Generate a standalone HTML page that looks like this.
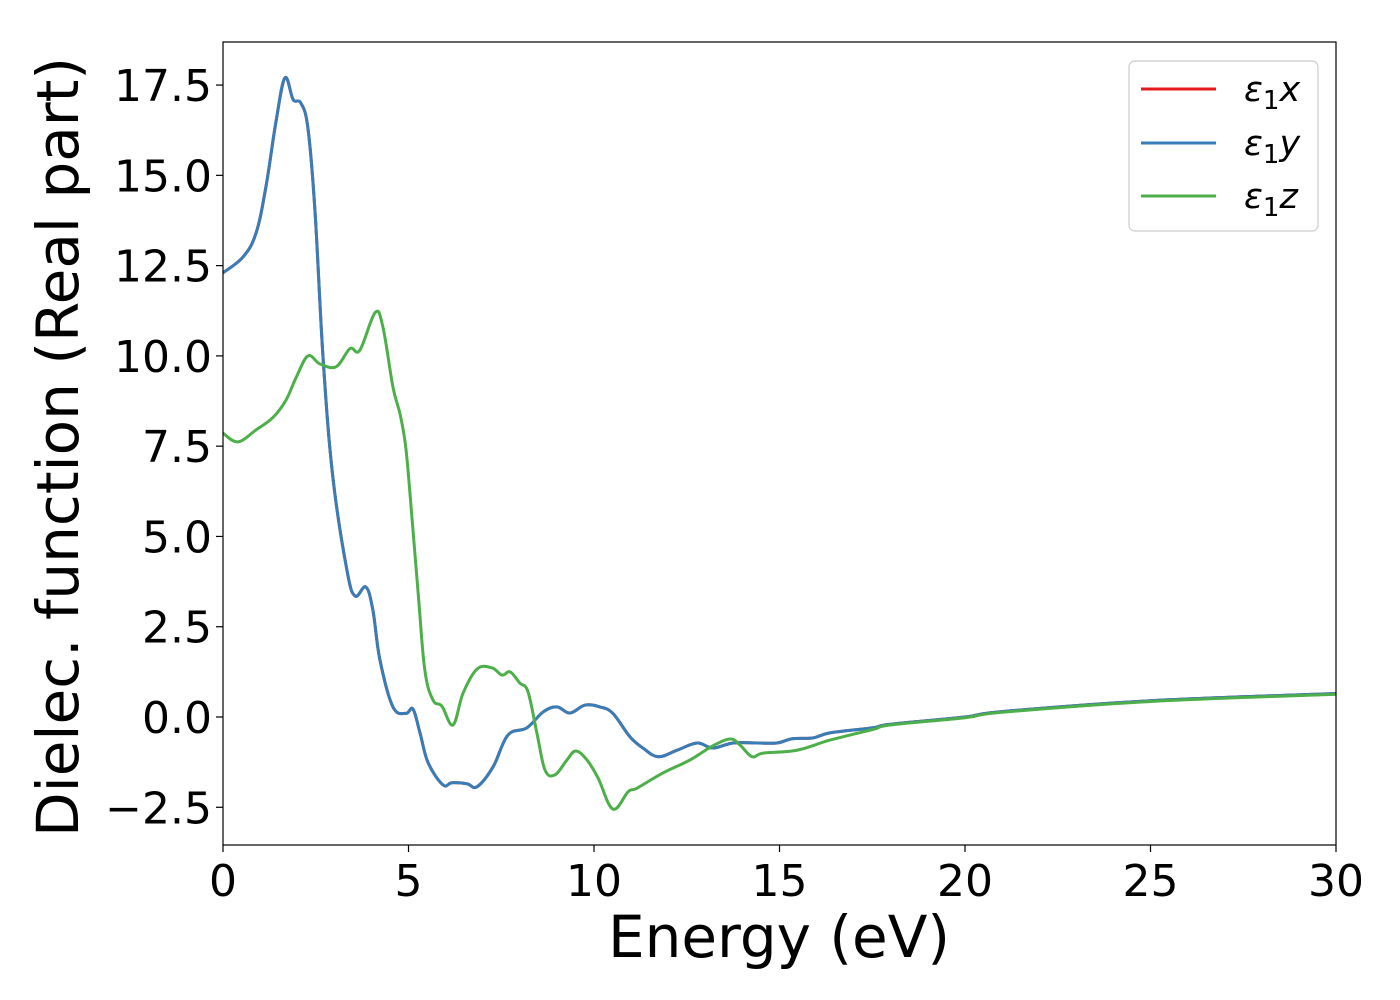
<!DOCTYPE html>
<html><head><meta charset="utf-8"><style>
html,body{margin:0;padding:0;background:#fff;}
svg{display:block;font-family:"DejaVu Sans","Liberation Sans",sans-serif;}
</style></head><body>
<svg id="chart" width="1400" height="1000" viewBox="0 0 1400 1000">
<rect x="0" y="0" width="1400" height="1000" fill="#fff"/>
<g id="plot"></g>
<g id="axes"></g>
</svg>
<script>
const xTicks = [0,5,10,15,20,25,30];
const xTickLabels = ["0","5","10","15","20","25","30"];
const yTicks = [-2.5,0,2.5,5,7.5,10,12.5,15,17.5];
const yTickLabels = ["\u22122.5","0.0","2.5","5.0","7.5","10.0","12.5","15.0","17.5"];
const seriesNames = ["\u03b5\u2081x","\u03b5\u2081y","\u03b5\u2081z"];
const xyEnergy = [0,0.54,0.89,1.16,1.43,1.67,1.89,2.1,2.29,2.48,2.7,2.96,3.34,3.56,3.85,4.04,4.23,4.58,4.93,5.12,5.31,5.53,5.93,6.17,6.58,6.85,7.28,7.68,8.19,8.63,9.0,9.35,9.76,10.16,10.51,10.97,11.32,11.73,12.24,12.78,13.2,13.75,14.4,14.93,15.36,15.9,16.36,17.5,18,20,21,25,30];
const xyValue = [12.3,12.74,13.4,14.7,16.5,17.7,17.1,17.0,16.3,14.0,9.9,6.65,4.07,3.35,3.6,2.96,1.58,0.28,0.1,0.22,-0.44,-1.27,-1.88,-1.82,-1.85,-1.93,-1.38,-0.5,-0.3,0.14,0.28,0.11,0.33,0.28,0.1,-0.55,-0.86,-1.1,-0.92,-0.72,-0.86,-0.72,-0.72,-0.72,-0.6,-0.58,-0.44,-0.3,-0.2,0.0,0.15,0.45,0.65];
const zEnergy = [0,0.4,0.89,1.35,1.7,1.97,2.29,2.61,3.05,3.42,3.69,4.1,4.31,4.58,4.77,4.91,5.01,5.26,5.44,5.66,5.9,6.2,6.47,6.85,7.25,7.52,7.74,8.0,8.22,8.46,8.68,8.95,9.27,9.51,9.81,10.11,10.51,10.92,11.16,11.86,12.59,13.2,13.67,13.93,14.26,14.56,15.47,16.36,17.5,18,20,21,25,30];
const zValue = [7.86,7.62,7.95,8.3,8.78,9.4,10.0,9.78,9.7,10.2,10.16,11.2,10.8,9.14,8.4,7.6,6.56,3.43,1.3,0.47,0.3,-0.22,0.66,1.33,1.36,1.16,1.25,0.94,0.7,-0.44,-1.47,-1.6,-1.19,-0.94,-1.19,-1.69,-2.55,-2.07,-1.97,-1.55,-1.19,-0.8,-0.61,-0.77,-1.1,-1.0,-0.92,-0.64,-0.35,-0.22,-0.02,0.13,0.43,0.63];

const X0=223,X1=1336,Y0=42,Y1=845;
const xMin=0,xMax=30;
const yPerUnit=36.11, yZero=717;
function xs(v){return X0+(v-xMin)/(xMax-xMin)*(X1-X0);}
function ys(v){return yZero-v*yPerUnit;}
const NS="http://www.w3.org/2000/svg";
function mk(t,a,p){const e=document.createElementNS(NS,t);for(const k in a)e.setAttribute(k,a[k]);p.appendChild(e);return e;}
function pathFor(E,V){
  const P=E.map((e,i)=>[xs(e),ys(V[i])]);
  let d="M"+P[0][0].toFixed(2)+","+P[0][1].toFixed(2);
  for(let i=0;i<P.length-1;i++){
    const p0=P[Math.max(0,i-1)],p1=P[i],p2=P[i+1],p3=P[Math.min(P.length-1,i+2)];
    const t=0.18;
    const c1=[p1[0]+(p2[0]-p0[0])*t,p1[1]+(p2[1]-p0[1])*t];
    const c2=[p2[0]-(p3[0]-p1[0])*t,p2[1]-(p3[1]-p1[1])*t];
    d+=" C"+c1.map(v=>v.toFixed(2)).join(",")+" "+c2.map(v=>v.toFixed(2)).join(",")+" "+p2.map(v=>v.toFixed(2)).join(",");
  }
  return d;
}
const svg=document.getElementById('chart');
const plot=document.getElementById('plot');
const axes=document.getElementById('axes');
const defs=mk('defs',{},svg);
const cp=mk('clipPath',{id:'clip'},defs);
mk('rect',{x:X0,y:Y0,width:X1-X0,height:Y1-Y0},cp);
plot.setAttribute('clip-path','url(#clip)');
const colors=["#e41a1c","#377eb8","#4daf4a"];
const data=[[xyEnergy,xyValue],[xyEnergy,xyValue],[zEnergy,zValue]];
const lineNames=["line-eps1-x","line-eps1-y","line-eps1-z"];
[0,1,2].forEach(i=>{
  const p=mk('path',{d:pathFor(data[i][0],data[i][1]),fill:'none',stroke:colors[i],'stroke-width':3,'stroke-linejoin':'round'},plot);
  
  
});
const fr=mk('rect',{x:X0,y:Y0,width:X1-X0,height:Y1-Y0,fill:'none',stroke:'#000','stroke-width':1.2},axes);


xTicks.forEach((v,i)=>{
  const x=xs(v);
  mk('line',{x1:x,y1:Y1,x2:x,y2:Y1+7,stroke:'#000','stroke-width':1.2},axes);
  const t=mk('text',{x:x,y:Y1+51,'text-anchor':'middle','font-size':44,fill:'#000'},axes);
  t.textContent=xTickLabels[i];
  
  
});
yTicks.forEach((v,i)=>{
  const y=ys(v);
  mk('line',{x1:X0-7,y1:y,x2:X0,y2:y,stroke:'#000','stroke-width':1.2},axes);
  const t=mk('text',{x:X0-11,y:y+16,'text-anchor':'end','font-size':44,fill:'#000'},axes);
  t.textContent=yTickLabels[i];
  
  
});
const xt=mk('text',{x:779,y:957,'text-anchor':'middle','font-size':58,fill:'#000'},axes);
xt.textContent="Energy (eV)";


const yt=mk('text',{x:0,y:0,'text-anchor':'middle','font-size':58,fill:'#000',transform:'translate(78,447) rotate(-90)'},axes);
yt.textContent="Dielec. function (Real part)";


const lg=mk('g',{},axes);


mk('rect',{x:1129,y:61,width:189,height:170,rx:6,fill:'#fff','fill-opacity':0.8,stroke:'#ccc','stroke-width':1.2},lg);
const ly=[89,143,196];
[0,1,2].forEach(i=>{
  const g=mk('g',{},lg);
  
  
  mk('line',{x1:1141,y1:ly[i],x2:1216,y2:ly[i],stroke:colors[i],'stroke-width':3},g);
  const t=mk('text',{x:1244,y:ly[i]+12,'font-size':35,'font-style':'italic',fill:'#000'},g);
  const s=seriesNames[i];
  t.appendChild(document.createTextNode(s[0]));
  const sub=mk('tspan',{'font-style':'normal','font-size':26,dy:8},t);
  sub.textContent="1";
  const last=mk('tspan',{dy:-8},t);
  last.textContent=s[2];
});
</script>
</body></html>
